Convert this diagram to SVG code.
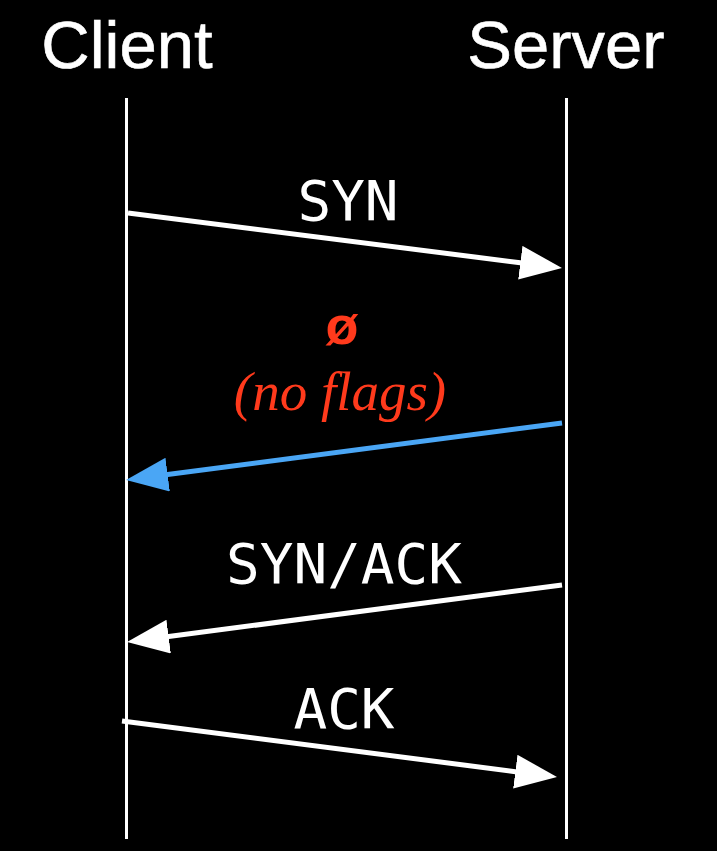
<svg xmlns="http://www.w3.org/2000/svg" width="717" height="851" viewBox="0 0 717 851">
  <defs>
    <style>
      .title { font-family: "Liberation Sans", Arial, sans-serif; font-size: 67px; fill: #ffffff; stroke: #ffffff; stroke-width: 0.6px; text-anchor: middle; }
      .msg { font-family: "DejaVu Sans Mono", monospace; font-size: 56px; fill: #ffffff; text-anchor: middle; }
      .red { fill: #ff3a1c; text-anchor: middle; }
      .life { stroke: #ffffff; stroke-width: 3; }
      .arrow { stroke: #ffffff; stroke-width: 5; fill: none; marker-end: url(#headW); }
      .arrowB { stroke: #4aa6f5; stroke-width: 5; fill: none; marker-end: url(#headB); }
    </style>
    <marker id="headW" markerUnits="userSpaceOnUse" markerWidth="44" markerHeight="36" refX="2" refY="17" orient="auto" viewBox="0 0 44 36">
      <path d="M0,0 L42,17 L0,34 z" fill="#ffffff"/>
    </marker>
    <marker id="headB" markerUnits="userSpaceOnUse" markerWidth="44" markerHeight="36" refX="2" refY="17" orient="auto" viewBox="0 0 44 36">
      <path d="M0,0 L42,17 L0,34 z" fill="#4aa6f5"/>
    </marker>
  </defs>
  <rect x="0" y="0" width="717" height="851" fill="#000000"/>

  <g id="client">
    <text class="title" x="127" y="68">Client</text>
    <line class="life" x1="126.5" y1="98" x2="126.5" y2="839"/>
  </g>
  <g id="server">
    <text class="title" x="566" y="68">Server</text>
    <line class="life" x1="566.5" y1="98" x2="566.5" y2="839"/>
  </g>

  <g id="connectors">
    <line class="arrow" x1="128" y1="213" x2="522.3" y2="263"/>
    <line class="arrowB" x1="562" y1="423" x2="165.7" y2="474.8"/>
    <line class="arrow" x1="562" y1="585" x2="166.7" y2="636.8"/>
    <line class="arrow" x1="122" y1="721" x2="517.3" y2="771.9"/>
  </g>

  <g id="labels">
    <text class="msg" x="348" y="220">SYN</text>
    <text class="red" x="342" y="344" font-family="Liberation Sans, Arial, sans-serif" font-weight="bold" font-size="54">ø</text>
    <text class="red" x="340" y="410" font-family="Liberation Serif, Times New Roman, serif" font-style="italic" font-size="55">(no flags)</text>
    <text class="msg" x="344" y="583">SYN/ACK</text>
    <text class="msg" x="344" y="728">ACK</text>
  </g>
</svg>
